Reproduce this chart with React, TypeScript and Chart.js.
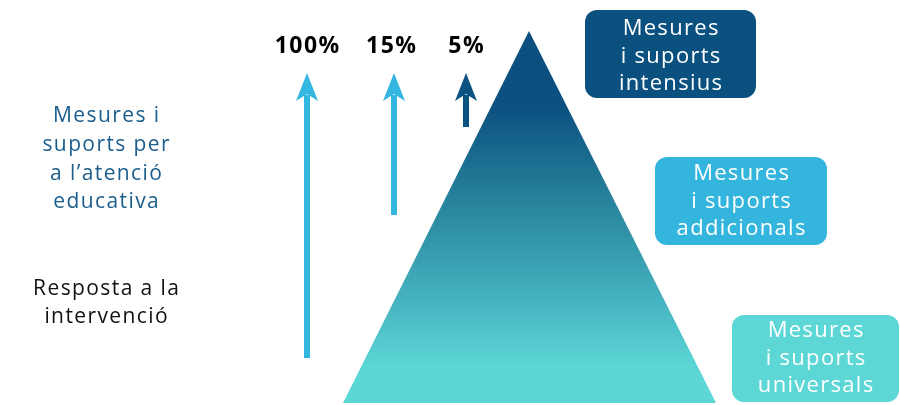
import React, { useEffect, useRef } from 'react';
import { Chart, registerables } from 'chart.js';

Chart.register(...registerables);

// Diagram units: x 0..900 (left→right), y 0..405 (top→bottom)
const pyramidX = [343, 529, 716];
const pyramidY = [403, 31, 403];

const arrowLabels = ['100%', '15%', '5%'];
const arrowX = [307, 394, 466];
const arrowTipY = [73, 73, 73];
const arrowBaseY = [358, 215, 127];
const arrowLabelY = [53, 53, 53];
const arrowLabelX = [307, 391, 466];

const tierLines = [
  ['Mesures', 'i suports', 'intensius'],
  ['Mesures', 'i suports', 'addicionals'],
  ['Mesures', 'i suports', 'universals'],
];
const tierBoxLeft = [585, 655, 732];
const tierBoxRight = [756, 827, 899];
const tierBoxTop = [10, 157, 315];
const tierBoxBottom = [98, 245, 402];
const tierFirstBaseline = [35, 180, 337];

const sideLabelTop = ['Mesures i', 'suports per', 'a l’atenció', 'educativa'];
const sideLabelTopBaseline = [122, 151, 180, 208];
const sideLabelBottom = ['Resposta a la', 'intervenció'];
const sideLabelBottomBaseline = [295, 323];
const sideLabelX = 106;

// styles
const FONT = '"Open Sans", Lato, sans-serif';
const tierColors = ['#0a5180', '#33b5de', '#5dd6d6'];
const arrowColors = ['#33b7e1', '#33b7e1', '#0b5482'];

function spacedText(ctx: any, text: string, x: number, y: number, spacing: number) {
  ctx.letterSpacing = `${spacing}px`;
  ctx.fillText(text, x + spacing / 2, y);
  ctx.letterSpacing = '0px';
}

const diagramPlugin = {
  id: 'diagram',
  afterDatasetsDraw(chart: any) {
    const { ctx } = chart;
    const xs = chart.scales.x;
    const ys = chart.scales.y;
    const px = (v: number) => xs.getPixelForValue(v);
    const py = (v: number) => ys.getPixelForValue(v);
    ctx.save();

    // arrow heads + labels
    arrowX.forEach((ax, i) => {
      const cx = px(ax);
      const tip = py(arrowTipY[i]);
      ctx.fillStyle = arrowColors[i];
      ctx.beginPath();
      ctx.moveTo(cx, tip);
      ctx.lineTo(cx + 11, tip + 28);
      ctx.lineTo(cx, tip + 21);
      ctx.lineTo(cx - 11, tip + 28);
      ctx.closePath();
      ctx.fill();

      ctx.fillStyle = '#000';
      ctx.font = `bold 23px ${FONT}`;
      ctx.textAlign = 'center';
      ctx.textBaseline = 'alphabetic';
      spacedText(ctx, arrowLabels[i], px(arrowLabelX[i]), py(arrowLabelY[i]), 1.5);
    });

    // tier boxes
    tierLines.forEach((lines, i) => {
      const l = px(tierBoxLeft[i]);
      const r = px(tierBoxRight[i]);
      const t = py(tierBoxTop[i]);
      const b = py(tierBoxBottom[i]);
      ctx.fillStyle = tierColors[i];
      ctx.beginPath();
      ctx.roundRect(l, t, r - l, b - t, 12);
      ctx.fill();
      ctx.fillStyle = '#ffffff';
      ctx.font = `400 22px ${FONT}`;
      ctx.textAlign = 'center';
      ctx.textBaseline = 'alphabetic';
      lines.forEach((ln, j) => {
        spacedText(ctx, ln, (l + r) / 2, py(tierFirstBaseline[i]) + j * 27.5, 1.3);
      });
    });

    // side labels
    ctx.textAlign = 'center';
    ctx.textBaseline = 'alphabetic';
    ctx.font = `400 21px ${FONT}`;
    ctx.fillStyle = '#1b5d8c';
    sideLabelTop.forEach((ln, j) => spacedText(ctx, ln, px(sideLabelX), py(sideLabelTopBaseline[j]), 1.4));
    ctx.fillStyle = '#111111';
    sideLabelBottom.forEach((ln, j) => spacedText(ctx, ln, px(sideLabelX), py(sideLabelBottomBaseline[j]), 1.4));

    ctx.restore();
  },
};

export default function App() {
  const ref = useRef<HTMLCanvasElement | null>(null);
  useEffect(() => {
    const canvas = ref.current;
    if (!canvas) return;

    const pyramidData = pyramidX.map((x, i) => ({ x, y: pyramidY[i] }));
    const arrowSets = arrowX.map((x, i) => ({
      type: 'line' as const,
      data: [
        { x, y: arrowBaseY[i] },
        { x, y: arrowTipY[i] + 22 },
      ],
      borderColor: arrowColors[i],
      borderWidth: 6,
      borderCapStyle: 'butt' as const,
      pointRadius: 0,
      fill: false,
    }));

    const chart = new Chart(canvas, {
      type: 'line',
      data: {
        datasets: [
          {
            data: pyramidData,
            borderWidth: 0,
            pointRadius: 0,
            fill: { target: { value: pyramidY[0] } },
            backgroundColor: (c: any) => {
              const ch = c.chart;
              const ys = ch.scales.y;
              const ca = ch.chartArea;
              if (!ys || !ca) return '#3a9aae';
              const y0 = ys.getPixelForValue(Math.min(...pyramidY));
              const y1 = ys.getPixelForValue(Math.max(...pyramidY));
              if (!isFinite(y0) || !isFinite(y1)) return '#3a9aae';
              const g = ch.ctx.createLinearGradient(0, y0, 0, y1);
              g.addColorStop(0, '#0a4f7e');
              g.addColorStop(0.2, '#0b5080');
              g.addColorStop(0.48, '#2a879e');
              g.addColorStop(0.72, '#45b2bf');
              g.addColorStop(0.9, '#5cd5d5');
              g.addColorStop(1, '#5dd6d6');
              return g;
            },
          } as any,
          ...arrowSets,
        ],
      },
      options: {
        animation: false,
        responsive: false,
        maintainAspectRatio: false,
        layout: { padding: 0 },
        events: [],
        plugins: { legend: { display: false }, tooltip: { enabled: false } },
        scales: {
          x: { type: 'linear', min: 0, max: 900, display: false },
          y: { type: 'linear', min: 0, max: 405, reverse: true, display: false },
        },
      },
      plugins: [diagramPlugin],
    });
    return () => chart.destroy();
  }, []);

  return (
    <div style={{ position: 'absolute', left: 0, top: 0, width: 900, height: 405, background: '#fff' }}>
      <canvas ref={ref} width={900} height={405} style={{ width: 900, height: 405, display: 'block' }} />
    </div>
  );
}
